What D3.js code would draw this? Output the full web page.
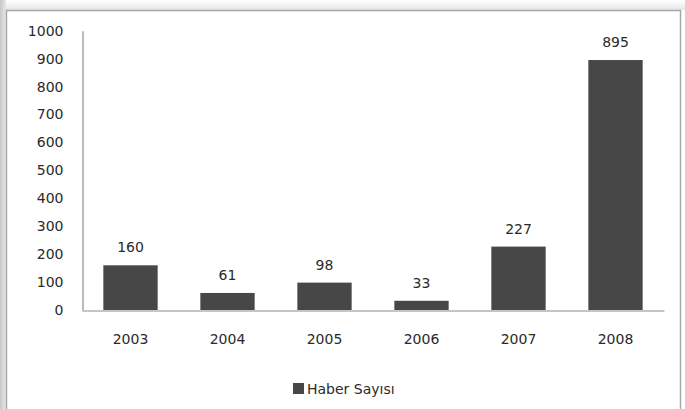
<!DOCTYPE html>
<html><head><meta charset="utf-8">
<script src="https://cdn.jsdelivr.net/npm/d3@7"></script>
<style>body{margin:0;background:#fff;}svg{display:block;}</style>
</head><body>
<svg id="c" width="685" height="409"></svg>
<script>
const years = ["2003","2004","2005","2006","2007","2008"];
const haberSayisi = [160, 61, 98, 33, 227, 895];
const yTicks = [0,100,200,300,400,500,600,700,800,900,1000];
const seriesName = "Haber Sayısı";

const svg = d3.select("#c");
const font = "DejaVu Sans, sans-serif";

// frame
const defs = svg.append("defs");
const g1 = defs.append("linearGradient").attr("id","lg").attr("x1","0").attr("x2","1");
g1.append("stop").attr("offset","0").attr("stop-color","#c8c8c8");
g1.append("stop").attr("offset","1").attr("stop-color","#e8e8e8");
const g2 = defs.append("linearGradient").attr("id","tg").attr("x1","0").attr("x2","0").attr("y1","0").attr("y2","1");
g2.append("stop").attr("offset","0").attr("stop-color","#ffffff");
g2.append("stop").attr("offset","1").attr("stop-color","#e6e6e6");
svg.append("rect").attr("x",0).attr("y",0).attr("width",685).attr("height",10).attr("fill","url(#tg)");
svg.append("rect").attr("x",0).attr("y",0).attr("width",6).attr("height",409).attr("fill","url(#lg)");
svg.append("rect").attr("x",6.5).attr("y",10.5).attr("width",674).attr("height",420)
  .attr("fill","#fff").attr("stroke","#a8a8a8").attr("stroke-width",1.5);

const x = d3.scaleBand().domain(years).range([82, 664]).paddingInner(0.44).paddingOuter(0.22);
const y = d3.scaleLinear().domain([0, 1000]).range([310, 30.7]);

// y axis
const yAxis = d3.axisLeft(y).tickValues(yTicks).tickSize(0).tickPadding(19).tickFormat(d3.format("d"));
const ya = svg.append("g").attr("transform","translate(82.5,0)").call(yAxis);
ya.select(".domain").attr("stroke","#8c8c8c").attr("stroke-width",1.2);
ya.selectAll("text").attr("font-family",font).attr("font-size",14).attr("fill","#2a2a2a");

// bars
svg.append("g").selectAll("rect").data(haberSayisi).join("rect")
  .attr("x",(d,i)=>x(years[i])).attr("y",d=>y(d))
  .attr("width",x.bandwidth()).attr("height",d=>y(0)-y(d))
  .attr("fill","#474747");

// x axis
const xAxis = d3.axisBottom(x).tickSize(0).tickPadding(24);
const xa = svg.append("g").attr("transform","translate(0,310.5)").call(xAxis);
xa.select(".domain").attr("stroke","#8c8c8c").attr("stroke-width",1.2);
xa.selectAll("text").attr("font-family",font).attr("font-size",14).attr("fill","#2a2a2a");

// value labels
svg.append("g").selectAll("text").data(haberSayisi).join("text")
  .attr("x",(d,i)=>x(years[i])+x.bandwidth()/2).attr("y",d=>y(d)-13)
  .attr("text-anchor","middle").attr("font-family",font).attr("font-size",14).attr("fill","#2a2a2a")
  .text(d=>d);

// legend
const lg = svg.append("g");
lg.append("rect").attr("x",293).attr("y",383).attr("width",11).attr("height",11).attr("fill","#474747");
lg.append("text").attr("x",307).attr("y",394).attr("font-family",font).attr("font-size",14).attr("fill","#2a2a2a").text(seriesName);
</script>
</body></html>
